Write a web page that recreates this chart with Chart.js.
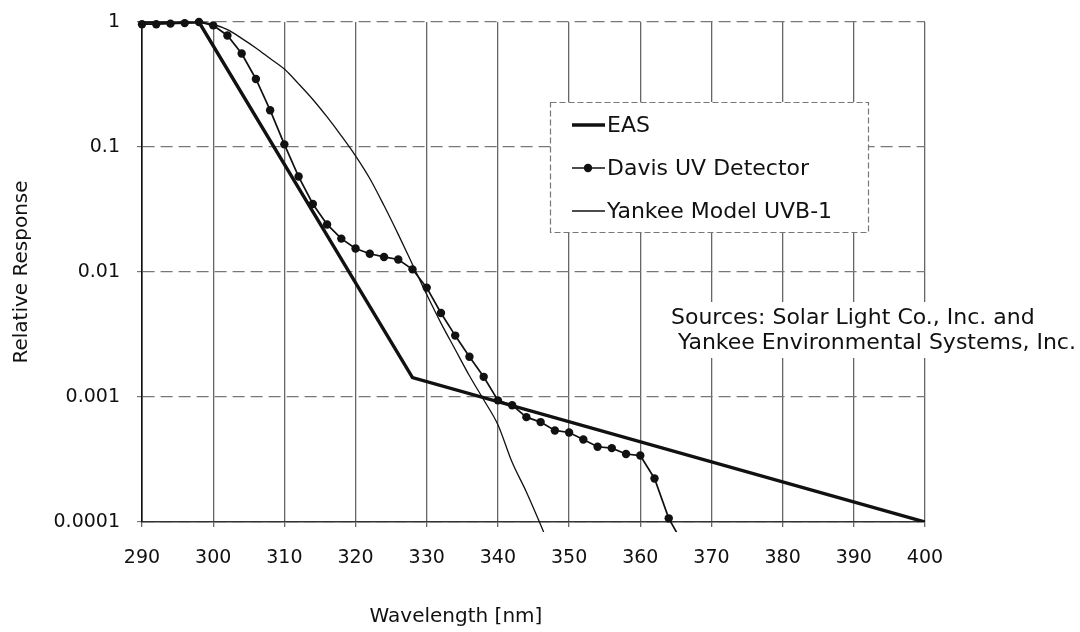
<!DOCTYPE html>
<html>
<head>
<meta charset="utf-8">
<script src="https://cdn.jsdelivr.net/npm/chart.js@4/dist/chart.umd.min.js"></script>
<style>
  body { margin: 0; background: #fff; }
</style>
</head>
<body>
<canvas id="myChart" width="1080" height="632"></canvas>
<script>
// tick labels for the log axis
var yTickValues = [0.0001, 0.001, 0.01, 0.1, 1];
var yTickLabels = ['0.0001', '0.001', '0.01', '0.1', '1'];

// EAS (erythemal action spectrum)
var easNm = [290, 298, 328, 400];
var easResp = [1, 1, 0.00143, 0.0001];

// Davis UV Detector, every 2 nm
var davisNm = [290, 292, 294, 296, 298, 300, 302, 304, 306, 308, 310, 312, 314, 316, 318, 320,
    322, 324, 326, 328, 330, 332, 334, 336, 338, 340, 342, 344, 346, 348, 350, 352, 354, 356,
    358, 360, 362, 364, 366];
var davisResp = [0.96, 0.96, 0.97, 0.98, 1.0, 0.94, 0.78, 0.56, 0.35, 0.197, 0.105, 0.058, 0.035,
    0.024, 0.0185, 0.0154, 0.014, 0.0132, 0.0126, 0.0105, 0.0075, 0.0047, 0.0031, 0.0021, 0.00145,
    0.00094, 0.00086, 0.00069, 0.00063, 0.00054, 0.00052, 0.000457, 0.0004, 0.00039, 0.00035,
    0.00034, 0.000223, 0.000107, 0.000067];

// Yankee Model UVB-1
var yankeeNm = [290, 298, 300, 302, 304, 306, 308, 310, 312, 314, 316, 318, 320, 322, 324, 326,
    328, 330, 332, 334, 336, 338, 340, 342, 344, 346, 348];
var yankeeResp = [1, 1, 0.955, 0.87, 0.74, 0.62, 0.51, 0.42, 0.32, 0.24, 0.174, 0.123, 0.085, 0.056,
    0.034, 0.02, 0.0115, 0.0066, 0.0039, 0.0024, 0.00148, 0.00095, 0.0006, 0.0003, 0.000174,
    0.000095, 0.00005];

var xTitle = 'Wavelength [nm]';
var sourceLines = ['Sources: Solar Light Co., Inc. and', ' Yankee Environmental Systems, Inc.'];

function toPoints(xs, ys) {
    var pts = [];
    for (var i in xs) {
        pts.push({ x: xs[i], y: ys[i] });
    }
    return pts;
}

var FONT = '"DejaVu Sans", sans-serif';
var lineClip = { left: 8, right: 8, top: 8, bottom: 10 };

// legend box, sources note and the x title (which sits left of centre)
var notesPlugin = {
    id: 'notes',
    afterDatasetsDraw: function (chart) {
        var ctx = chart.ctx;
        ctx.save();
        ctx.textBaseline = 'middle';

        ctx.fillStyle = '#111';
        ctx.font = '20px ' + FONT;
        ctx.textAlign = 'center';
        ctx.fillText(xTitle, 456, 617);

        // sources text on a white patch
        ctx.textAlign = 'left';
        ctx.fillStyle = '#fff';
        ctx.fillRect(662, 302, 416, 56);
        ctx.fillStyle = '#111';
        ctx.font = '22px ' + FONT;
        ctx.fillText(sourceLines[0], 671, 318);
        ctx.fillText(sourceLines[1], 671, 343);

        // legend
        ctx.fillStyle = '#fff';
        ctx.fillRect(550, 102, 318, 130);
        ctx.setLineDash([6, 3]);
        ctx.strokeStyle = '#777';
        ctx.lineWidth = 1.2;
        ctx.strokeRect(550.5, 102.5, 318, 130);
        ctx.setLineDash([]);

        var rows = [125, 168, 211];
        chart.data.datasets.forEach(function (ds, i) {
            var y = rows[i];
            ctx.strokeStyle = ds.borderColor;
            ctx.lineWidth = ds.borderWidth;
            ctx.beginPath();
            ctx.moveTo(572, y);
            ctx.lineTo(605, y);
            ctx.stroke();
            if (ds.pointRadius > 0) {
                ctx.fillStyle = ds.pointBackgroundColor;
                ctx.beginPath();
                ctx.arc(588, y, ds.pointRadius, 0, Math.PI * 2);
                ctx.fill();
            }
            ctx.fillStyle = '#111';
            ctx.font = '22px ' + FONT;
            ctx.fillText(ds.label, 607, y + 1);
        });
        ctx.restore();
    }
};

new Chart('myChart', {
    type: 'line',
    data: {
        datasets: [{
            label: 'EAS',
            data: toPoints(easNm, easResp),
            borderColor: '#111',
            borderWidth: 3.4,
            pointRadius: 0,
            tension: 0
        }, {
            label: 'Davis UV Detector',
            data: toPoints(davisNm, davisResp),
            borderColor: '#111',
            borderWidth: 1.7,
            pointRadius: 4.2,
            pointBackgroundColor: '#111',
            pointBorderWidth: 0,
            tension: 0,
            clip: lineClip
        }, {
            label: 'Yankee Model UVB-1',
            data: toPoints(yankeeNm, yankeeResp),
            borderColor: '#111',
            borderWidth: 1.3,
            pointRadius: 0,
            cubicInterpolationMode: 'monotone',
            clip: lineClip
        }]
    },
    options: {
        responsive: false,
        animation: false,
        devicePixelRatio: 1,
        layout: { padding: { left: 0, right: 155, top: 22, bottom: 0 } },
        plugins: {
            legend: { display: false },
            tooltip: { enabled: false }
        },
        scales: {
            x: {
                type: 'linear',
                min: 290,
                max: 400,
                afterFit: function (s) { s.height = 110; },
                ticks: {
                    stepSize: 10,
                    padding: 20,
                    color: '#111',
                    font: { family: FONT, size: 19 }
                },
                grid: { color: '#666', lineWidth: 1.3, tickLength: 5 },
                border: { color: '#333', width: 1.5 }
            },
            y: {
                type: 'logarithmic',
                min: 0.0001,
                max: 1,
                afterFit: function (s) {
                    s.width = 142;
                    s.paddingTop = 0;
                },
                afterBuildTicks: function (s) {
                    s.ticks = yTickValues.map(function (v) { return { value: v }; });
                },
                ticks: {
                    padding: 17,
                    color: '#111',
                    font: { family: FONT, size: 19 },
                    callback: function (v) {
                        var i = yTickValues.indexOf(v);
                        return i >= 0 ? yTickLabels[i] : '';
                    }
                },
                grid: { color: '#777', lineWidth: 1.2, tickLength: 5 },
                border: { color: '#111', width: 1.6, dash: [12, 6] },
                title: {
                    display: true,
                    text: 'Relative Response',
                    color: '#111',
                    font: { family: FONT, size: 20 },
                    padding: { top: 10, bottom: 0 }
                }
            }
        }
    },
    plugins: [notesPlugin]
});
</script>
</body>
</html>
